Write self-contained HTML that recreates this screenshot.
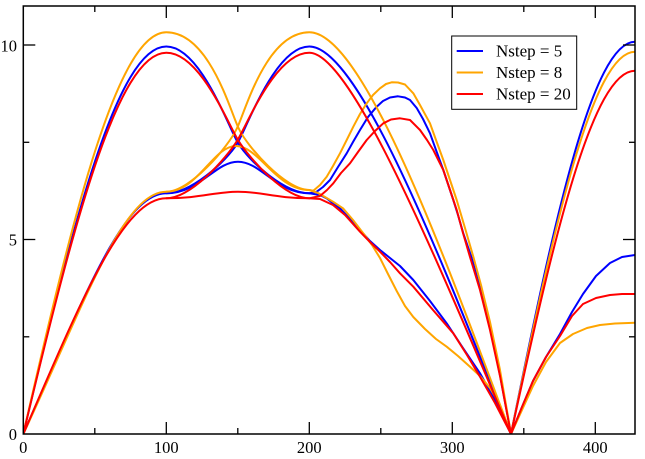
<!DOCTYPE html>
<html>
<head>
<meta charset="utf-8">
<style>
  html,body{margin:0;padding:0;background:#fff;}
  svg{display:block;}
  text{font-family:"Liberation Serif","Times New Roman",serif;fill:#000;}
</style>
</head>
<body>
<svg width="645" height="459" viewBox="0 0 645 459" xmlns="http://www.w3.org/2000/svg">
  <rect x="0" y="0" width="645" height="459" fill="#fff"/>
  <defs>
    <clipPath id="pc"><rect x="23.3" y="6" width="611.7" height="428"/></clipPath>
  </defs>

  <g clip-path="url(#pc)" fill="none" stroke-width="2" stroke-linejoin="round" stroke-linecap="round">
    <!-- BLUE -->
    <g stroke="#0000ff">
      <path d="M23.3,434 C73.3,221 117.7,46.5 166.3,46.5 C200,46.5 228,126 238,143 C250,162.4 285,193.3 309.3,193.3"/>
      <path d="M23.3,434 C83.4,298.9 123.4,193.3 166.3,193.3 C200,193.3 215,161.7 238,161.7 C261,161.7 276,193.3 309.3,193.3 L320,195 326.7,198.3 333,203.3 340,208.3 350,219 360,230 370,241 380,250 390,258 400,266 413.3,280 430,301 446.7,323.3 463,348 480,373.3 495,400 511,434 L522,407 533,381 546,357 560,334 572,312 583,294 596,276 610,263 622,257 635,255"/>
      <path d="M166.3,193.3 C190.6,193.3 225.6,162.4 237.6,143 C247.6,126 275.6,46.5 309.3,46.5 C360,46.5 445,270 511,434 C554.4,218.3 592.8,41.7 635,41.7"/>
      <path d="M309.3,193.3 L316.7,191.7 323,187 330,180 338,167 346.7,153.3 353,142 360,130 368,117 376.7,106.7 383,101 390,97.5 398,96.3 405,97.5 410,100 416.7,108 423,119 430,133.3 436,150 443.3,170 448,184 453.3,200 458,215 463.3,233.3 471.7,258 480,288 490,327 500,375 511,434"/>
    </g>
    <!-- ORANGE -->
    <g stroke="#ffa500">
      <path d="M23.3,434 C73.3,213.2 117.7,32.3 166.3,32.3 C210,32.3 231,114 239,129 C247,146 285,190 309.3,190"/>
      <path d="M23.3,434 C85,302 123.4,191.7 166.3,191.7 C198,191.7 213,146 236,146 C259,146 276,190 309.3,190 L318,193 325,197 333,201.7 343,208.3 353,220 363.3,233.3 372,245 380,258 388,274 396.7,291 405,306 413.3,317 425,329 436,339 446.7,346.7 458,356 470,366.7 480,376 490,388 500,405 511,434 L522,410 533,386 546,362 560,343 573,334 587,328 600,325 615,323.5 635,322.7"/>
      <path d="M166.3,191.7 C190.6,191.7 228.6,146 236.6,129 C244.6,114 265.6,32.3 309.3,32.3 C365,32.3 450,272 511,434 C554.4,223.8 592.8,51.7 635,51.7"/>
      <path d="M309.3,190 L313.3,190.7 320,185 326.7,176.7 333,166 340,153.3 346.7,140 353.3,126.7 360,114 366.7,103.3 373,95 380,88.3 386,84 391.7,82.3 398,82.5 405,84.5 413.3,93.3 420,105 430,123.3 436,140 443.3,160 450,180 456.7,200 465,228 473.3,256.7 481,285 490,322 500,370 511,434"/>
    </g>
    <!-- RED -->
    <g stroke="#ff0000">
      <path d="M23.3,434 C73.3,224.4 117.7,52.7 166.3,52.7 C200,52.7 228,123.8 238,140 C250,159.4 285,198.3 309.3,198.3"/>
      <path d="M23.3,434 C82,298 123.4,198.3 166.3,198.3 C200,198.3 215,191.7 238,191.7 C261,191.7 276,198.3 309.3,198.3 L320,199 333,205 345,215 360,231.7 370,242 380,251.7 390,262 400,273.3 413.3,286.7 433,310 453.3,333.3 467,355 480,376.7 495,403 511,434 L522,407 533,381 546,357 560,336 572,316 583,304 596,298 610,295 622,294 635,294"/>
      <path d="M166.3,198.3 C190.6,198.3 225.6,159.4 237.6,140 C247.6,123.8 275.6,52.7 309.3,52.7 C352,52.7 440,268 511,434 C554.4,234.2 592.8,70.7 635,70.7"/>
      <path d="M309.3,198.3 L320,196 327,190 333.3,183.3 341,173 350,163.3 358,152 366.7,140 375,131 383.3,123.3 391,119.5 400,118.3 410,120 420,130 427,140 433.3,150 443.3,170 450,190 456.7,210 463,233 470,257 480,290 490,330 500,376 511,434"/>
    </g>
  </g>

  <!-- Frame -->
  <rect x="23.3" y="6" width="611.7" height="428" fill="none" stroke="#000" stroke-width="1.5"/>

  <!-- Ticks -->
  <g stroke="#000" stroke-width="1.3">
    <!-- bottom major -->
    <line x1="166.3" y1="434" x2="166.3" y2="422"/>
    <line x1="309.3" y1="434" x2="309.3" y2="422"/>
    <line x1="452.3" y1="434" x2="452.3" y2="422"/>
    <line x1="595.3" y1="434" x2="595.3" y2="422"/>
    <!-- bottom minor -->
    <line x1="94.8" y1="434" x2="94.8" y2="428"/>
    <line x1="237.8" y1="434" x2="237.8" y2="428"/>
    <line x1="380.8" y1="434" x2="380.8" y2="428"/>
    <line x1="523.8" y1="434" x2="523.8" y2="428"/>
    <!-- top major -->
    <line x1="166.3" y1="6" x2="166.3" y2="18"/>
    <line x1="309.3" y1="6" x2="309.3" y2="18"/>
    <line x1="452.3" y1="6" x2="452.3" y2="18"/>
    <line x1="595.3" y1="6" x2="595.3" y2="18"/>
    <!-- top minor -->
    <line x1="94.8" y1="6" x2="94.8" y2="12"/>
    <line x1="237.8" y1="6" x2="237.8" y2="12"/>
    <line x1="380.8" y1="6" x2="380.8" y2="12"/>
    <line x1="523.8" y1="6" x2="523.8" y2="12"/>
    <!-- left major -->
    <line x1="23.3" y1="239.5" x2="35.3" y2="239.5"/>
    <line x1="23.3" y1="45" x2="35.3" y2="45"/>
    <!-- left minor -->
    <line x1="23.3" y1="336.8" x2="29.3" y2="336.8"/>
    <line x1="23.3" y1="142.3" x2="29.3" y2="142.3"/>
    <!-- right major -->
    <line x1="635" y1="239.5" x2="623" y2="239.5"/>
    <line x1="635" y1="45" x2="623" y2="45"/>
    <!-- right minor -->
    <line x1="635" y1="336.8" x2="629" y2="336.8"/>
    <line x1="635" y1="142.3" x2="629" y2="142.3"/>
  </g>

  <!-- Tick labels -->
  <g font-size="16.5">
    <text x="17" y="440" text-anchor="end">0</text>
    <text x="17" y="245.5" text-anchor="end">5</text>
    <text x="17" y="51.5" text-anchor="end">10</text>
    <text x="23.3" y="453" text-anchor="middle">0</text>
    <text x="166.3" y="453" text-anchor="middle">100</text>
    <text x="309.3" y="453" text-anchor="middle">200</text>
    <text x="452.3" y="453" text-anchor="middle">300</text>
    <text x="595.3" y="453" text-anchor="middle">400</text>
  </g>

  <!-- Legend -->
  <rect x="451.7" y="36" width="125" height="73.3" fill="#fff" stroke="#000" stroke-width="1"/>
  <line x1="456.7" y1="51" x2="483" y2="51" stroke="#0000ff" stroke-width="2"/>
  <line x1="456.7" y1="72.5" x2="483" y2="72.5" stroke="#ffa500" stroke-width="2"/>
  <line x1="456.7" y1="94" x2="483" y2="94" stroke="#ff0000" stroke-width="2"/>
  <g font-size="17">
    <text x="496" y="56.5">Nstep = 5</text>
    <text x="496" y="78">Nstep = 8</text>
    <text x="496" y="99.5">Nstep = 20</text>
  </g>
</svg>
</body>
</html>
